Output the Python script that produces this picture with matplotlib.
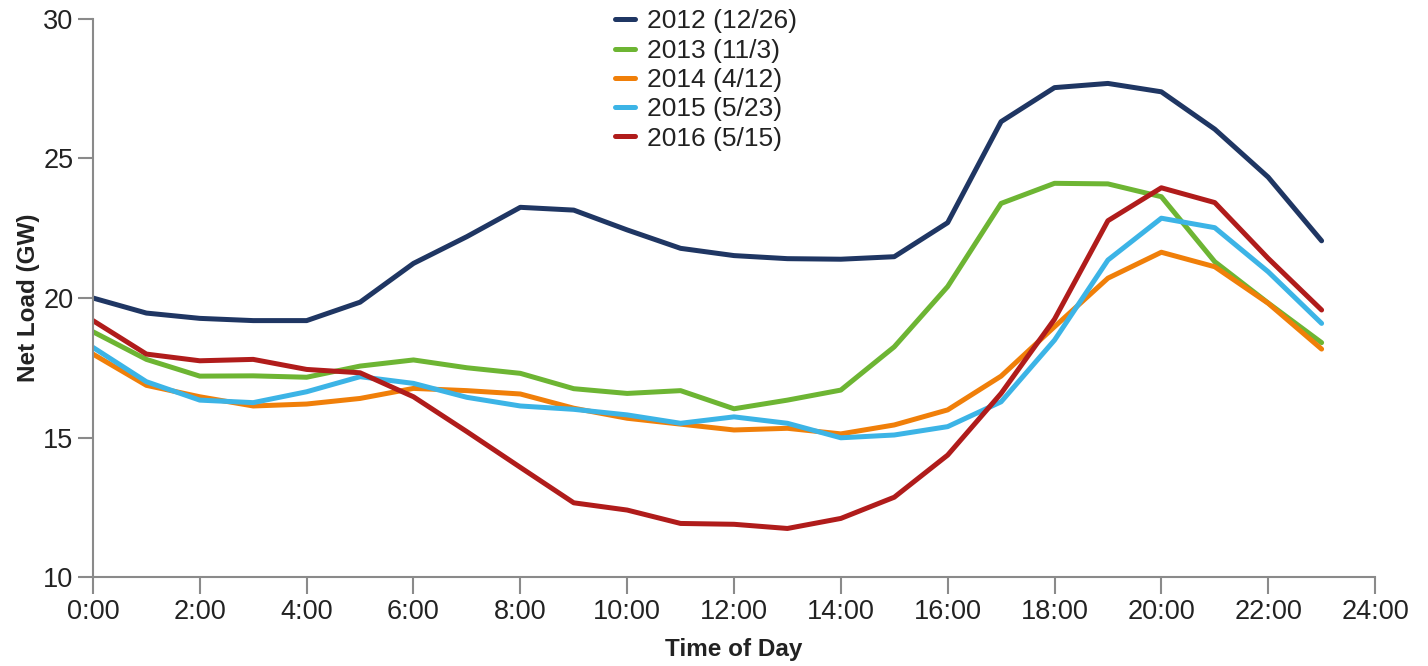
import matplotlib
matplotlib.use("Agg")
import matplotlib.pyplot as plt

# ---------------------------------------------------
# Data: hourly net load (GW) for the minimum-load day of each year
# ---------------------------------------------------
hours = list(range(24))
labels = ["2012 (12/26)", "2013 (11/3)", "2014 (4/12)", "2015 (5/23)", "2016 (5/15)"]
colors = ["#1f3663", "#6db533", "#f07f09", "#3cb4e6", "#b01c1b"]

load_2012 = [20.0, 19.46, 19.27, 19.19, 19.19, 19.85, 21.24, 22.2, 23.25, 23.15, 22.44, 21.78,
             21.52, 21.41, 21.39, 21.48, 22.70, 26.32, 27.54, 27.69, 27.39, 26.05, 24.33, 22.05]
load_2013 = [18.79, 17.80, 17.20, 17.21, 17.16, 17.56, 17.78, 17.50, 17.30, 16.75, 16.58, 16.68,
             16.03, 16.34, 16.70, 18.25, 20.41, 23.39, 24.11, 24.09, 23.63, 21.30, 19.82, 18.40]
load_2014 = [17.99, 16.87, 16.46, 16.13, 16.20, 16.40, 16.76, 16.68, 16.56, 16.05, 15.69, 15.48,
             15.27, 15.33, 15.13, 15.45, 15.99, 17.20, 18.97, 20.71, 21.64, 21.12, 19.81, 18.17]
load_2015 = [18.23, 17.00, 16.34, 16.25, 16.64, 17.18, 16.94, 16.44, 16.13, 16.01, 15.81, 15.51,
             15.74, 15.51, 14.99, 15.09, 15.39, 16.28, 18.49, 21.36, 22.86, 22.52, 20.94, 19.09]
load_2016 = [19.19, 17.99, 17.75, 17.80, 17.44, 17.32, 16.46, 15.21, 13.93, 12.66, 12.40, 11.92,
             11.89, 11.74, 12.10, 12.86, 14.37, 16.58, 19.24, 22.77, 23.95, 23.42, 21.42, 19.57]

series = [load_2012, load_2013, load_2014, load_2015, load_2016]

xticks = list(range(0, 25, 2))
xtick_labels = [f"{h}:00" for h in xticks]
yticks = [10, 15, 20, 25, 30]

# ---------------------------------------------------
# Plot
# ---------------------------------------------------
plt.rcParams["font.family"] = ["Liberation Sans", "DejaVu Sans"]
text_color = "#222222"
axis_gray = "#8a8a8a"

fig = plt.figure(figsize=(14.28, 6.66), dpi=100)
ax = fig.add_axes([0.0651, 0.1336, 0.8978, 0.8379])

for vals, lab, col in zip(series, labels, colors):
    ax.plot(hours, vals, color=col, lw=3.6, label=lab, solid_capstyle="round")

ax.set_xlim(0, 24)
ax.set_ylim(10, 30)
ax.set_xticks(xticks)
ax.set_xticklabels(xtick_labels)
ax.set_yticks(yticks)

for side in ["top", "right"]:
    ax.spines[side].set_visible(False)
for side in ["left", "bottom"]:
    ax.spines[side].set_color(axis_gray)
    ax.spines[side].set_linewidth(1.5)

ax.tick_params(axis="both", colors=axis_gray, width=1.5, labelsize=19.5,
               labelcolor=text_color)
ax.tick_params(axis="x", length=12, pad=4)
ax.tick_params(axis="y", length=11, pad=3)

ax.set_xlabel("Time of Day", fontsize=17.5, fontweight="bold", color=text_color, labelpad=9)
ax.set_ylabel("Net Load (GW)", fontsize=17.5, fontweight="bold", color=text_color, labelpad=2)

leg = ax.legend(loc="upper left", bbox_to_anchor=(597 / 1428, 1 + 9 / 666),
                bbox_transform=fig.transFigure, frameon=False, fontsize=19,
                handlelength=0.75, handletextpad=0.45, labelspacing=0.2,
                borderpad=0.2)
for t in leg.get_texts():
    t.set_color(text_color)

plt.savefig("out.png", dpi=100)
